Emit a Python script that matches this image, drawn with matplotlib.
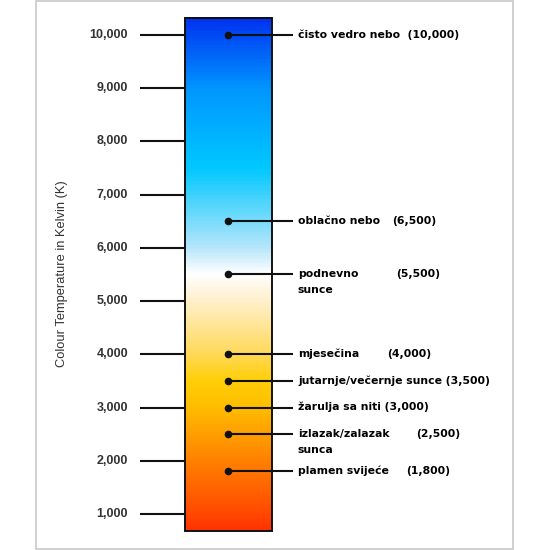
import numpy as np
import matplotlib.pyplot as plt
from matplotlib.colors import LinearSegmentedColormap
from matplotlib.patches import Rectangle

# axis ticks (Kelvin)
ticks = [1000, 2000, 3000, 4000, 5000, 6000, 7000, 8000, 9000, 10000]
tick_labels = ["1,000", "2,000", "3,000", "4,000", "5,000",
               "6,000", "7,000", "8,000", "9,000", "10,000"]

# light sources
temps = [10000, 6500, 5500, 4000, 3500, 3000, 2500, 1800]
names = ["čisto vedro nebo  (10,000)", "oblačno nebo", "podnevno\nsunce",
         "mjesečina", "jutarnje/večernje sunce (3,500)",
         "žarulja sa niti (3,000)", "izlazak/zalazak\nsunca", "plamen svijeće"]
values = ["", "(6,500)", "(5,500)", "(4,000)", "", "", "(2,500)", "(1,800)"]
value_x = [0, 392, 396, 387, 0, 0, 416, 406]

bar_lo, bar_hi = 680, 10320

# colour stops (kelvin, rgb)
stops_k = [680, 1000, 2000, 3000, 3500, 4000, 5000, 5500, 6000, 7500, 9000, 10320]
stops_c = ["#ff3300", "#ff4a00", "#ff8200", "#ffbe00", "#ffcf08", "#ffd95a",
           "#fff0cc", "#ffffff", "#b6e6fa", "#00c8ff", "#0096ff", "#0032f0"]

cmap = LinearSegmentedColormap.from_list(
    "kelvin", [((k - bar_lo) / (bar_hi - bar_lo), c) for k, c in zip(stops_k, stops_c)])

fig = plt.figure(figsize=(5.5, 5.5), dpi=100)
ax = fig.add_axes([0, 0, 1, 1])
ax.set_xlim(0, 550)
# pixel mapping: 10000 -> 35px from top, 1000 -> 514px
ppk = 479 / 9000
ax.set_ylim(10000 - 515 / ppk, 10000 + 35 / ppk)
ax.axis("off")

fig.patches.append(Rectangle((36 / 550, 1 / 550), 477 / 550, 548 / 550,
                             transform=fig.transFigure, fill=False,
                             edgecolor="#c8c8c8", linewidth=1.2))

grad = np.linspace(0, 1, 400).reshape(-1, 1)
ax.imshow(grad, cmap=cmap, origin="lower", aspect="auto",
          extent=[185, 272, bar_lo, bar_hi], zorder=1)
ax.add_patch(Rectangle((185, bar_lo), 87, bar_hi - bar_lo, fill=False,
                       edgecolor="#111111", linewidth=1.4, zorder=3))

# axis ticks
ax.hlines(ticks, 140, 185, color="#111111", linewidth=1.5, zorder=2)
for t, lab in zip(ticks, tick_labels):
    ax.text(128, t, lab, ha="right", va="center", fontsize=9,
            fontweight="bold", color="#333333", family="Liberation Sans")

ax.text(62, 5510, "Colour Temperature in Kelvin (K)", rotation=90,
        ha="center", va="center", fontsize=9.3, color="#333333",
        family="Liberation Sans")

# markers and labels
ax.hlines(temps, 228, 293, color="#111111", linewidth=1.5, zorder=4)
ax.plot([228] * len(temps), temps, "o", color="#111111", markersize=4.5, zorder=5)
for t, n, v, vx in zip(temps, names, values, value_x):
    ax.annotate(n, xy=(298, t), xytext=(0, 4), textcoords="offset points",
                ha="left", va="top", fontsize=7.8, fontweight="bold",
                color="#000000", linespacing=1.75)
    if v:
        ax.text(vx, t, v, ha="left", va="center", fontsize=7.8,
                fontweight="bold", color="#000000")

fig.savefig("out.png", dpi=100)
